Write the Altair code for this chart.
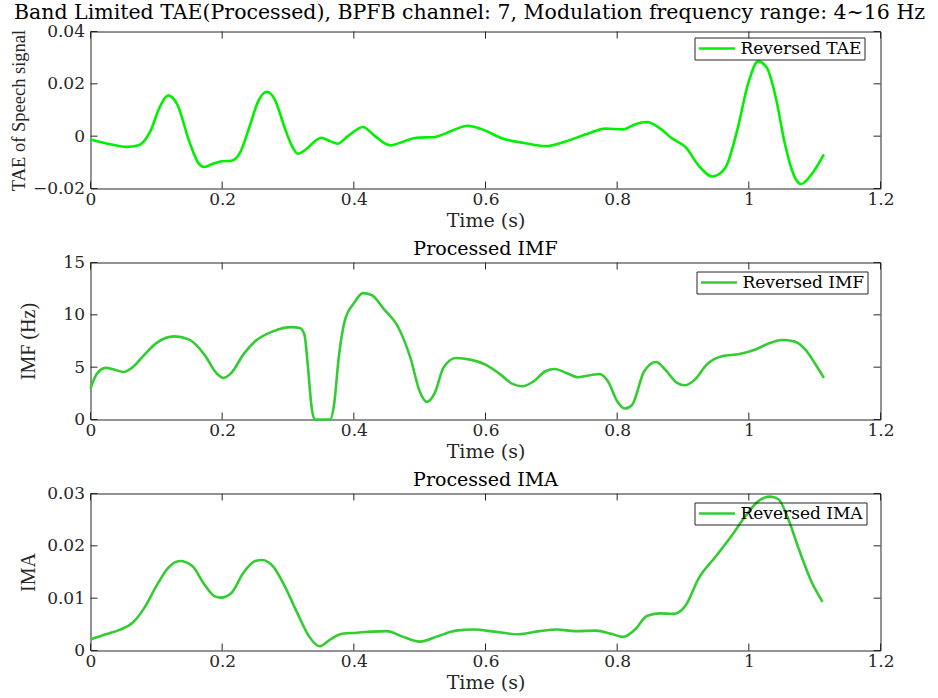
import altair as alt
import pandas as pd

# ---------------- data ----------------
tae_t = [0.0, 0.032, 0.055, 0.073, 0.091, 0.105, 0.118, 0.132, 0.15, 0.164, 0.173, 0.186, 0.2, 0.214,
         0.227, 0.241, 0.255, 0.268, 0.28, 0.295, 0.305, 0.315, 0.327, 0.341, 0.35, 0.364, 0.375, 0.391,
         0.414, 0.432, 0.455, 0.477, 0.495, 0.523, 0.55, 0.573, 0.595, 0.627, 0.659, 0.691, 0.723, 0.755,
         0.782, 0.809, 0.827, 0.845, 0.864, 0.882, 0.905, 0.923, 0.945, 0.964, 0.982, 1.0, 1.014, 1.027,
         1.041, 1.055, 1.068, 1.079, 1.095, 1.114]
tae_v = [-0.0013, -0.0032, -0.0041, -0.0035, 0.0019, 0.011, 0.0156, 0.012, -0.002, -0.0103, -0.0118,
         -0.0105, -0.0096, -0.0094, -0.0064, 0.0032, 0.0135, 0.017, 0.014, 0.0032, -0.0032, -0.0067,
         -0.0051, -0.0019, -0.0006, -0.0019, -0.0029, 0.0, 0.0035, 0.0, -0.0035, -0.0019, -0.0006, -0.0003,
         0.0022, 0.004, 0.0026, -0.001, -0.0026, -0.0038, -0.0019, 0.0009, 0.0029, 0.0026, 0.0045, 0.0054,
         0.0032, -0.0006, -0.0045, -0.011, -0.0154, -0.0122, 0.0019, 0.021, 0.0286, 0.0263, 0.0147,
         -0.0032, -0.0147, -0.0183, -0.0147, -0.007]

imf_t = [0.0, 0.009, 0.023, 0.036, 0.05, 0.064, 0.082, 0.1, 0.127, 0.15, 0.173, 0.191, 0.202, 0.214,
         0.232, 0.25, 0.277, 0.305, 0.318, 0.325, 0.33, 0.336, 0.341, 0.364, 0.37, 0.377, 0.386, 0.4,
         0.414, 0.427, 0.445, 0.468, 0.486, 0.5, 0.511, 0.523, 0.536, 0.555, 0.577, 0.6, 0.623, 0.641,
         0.656, 0.673, 0.691, 0.705, 0.723, 0.741, 0.759, 0.773, 0.786, 0.8, 0.812, 0.823, 0.841, 0.859,
         0.873, 0.891, 0.903, 0.918, 0.936, 0.959, 0.986, 1.009, 1.032, 1.05, 1.068, 1.086, 1.1, 1.114]
imf_v = [2.95, 4.29, 4.93, 4.77, 4.54, 4.99, 6.2, 7.3, 7.94, 7.63, 6.2, 4.45, 3.97, 4.45, 6.2, 7.47,
         8.42, 8.83, 8.74, 8.1, 5.24, 1.1, 0.0, 0.0, 1.43, 5.88, 9.37, 11.1, 12.07, 11.9, 10.6, 8.74,
         5.88, 2.7, 1.68, 2.54, 4.93, 5.88, 5.72, 5.24, 4.29, 3.4, 3.18, 3.65, 4.61, 4.83, 4.45, 4.04,
         4.23, 4.35, 3.65, 1.75, 1.05, 1.43, 4.61, 5.5, 4.77, 3.5, 3.27, 3.81, 5.24, 6.04, 6.26, 6.67,
         7.3, 7.6, 7.47, 6.67, 5.4, 3.97]

ima_t = [0.0, 0.023, 0.045, 0.064, 0.082, 0.1, 0.118, 0.136, 0.155, 0.173, 0.188, 0.198, 0.214, 0.232,
         0.25, 0.261, 0.277, 0.295, 0.314, 0.332, 0.348, 0.364, 0.382, 0.405, 0.427, 0.45, 0.473, 0.5,
         0.527, 0.555, 0.582, 0.614, 0.65, 0.682, 0.709, 0.736, 0.768, 0.791, 0.809, 0.827, 0.845, 0.864,
         0.886, 0.905, 0.923, 0.95, 0.973, 0.995, 1.014, 1.032, 1.045, 1.059, 1.077, 1.095, 1.112]
ima_v = [0.0021, 0.0031, 0.004, 0.0053, 0.0082, 0.0123, 0.0158, 0.0171, 0.0161, 0.0126, 0.0104, 0.0101,
         0.011, 0.0148, 0.0171, 0.0173, 0.0161, 0.0123, 0.0072, 0.0027, 0.0008, 0.0021, 0.0032, 0.0034,
         0.0036, 0.0037, 0.0027, 0.0017, 0.0027, 0.0038, 0.004, 0.0036, 0.0031, 0.0037, 0.004, 0.0037,
         0.0038, 0.0032, 0.0026, 0.004, 0.0066, 0.0071, 0.007, 0.0088, 0.0136, 0.018, 0.0218, 0.0257,
         0.0285, 0.0294, 0.0289, 0.0254, 0.019, 0.0132, 0.0093]

x_ticks = [0, 0.2, 0.4, 0.6, 0.8, 1, 1.2]
tae_ticks = [-0.02, 0, 0.02, 0.04]
imf_ticks = [0, 5, 10, 15]
ima_ticks = [0, 0.01, 0.02, 0.03]

# ---------------- styling ----------------
W, H = 790, 157
HFONT = "DejaVu Serif"
VFONT = "Liberation Serif"
INK = "#262626"
TICK = 7


def panel(t, v, color, name, ytitle, ytitle_size, ydomain, yticks, title, title_size, title_offset,
          title_dx, ytitle_x, legend_x, legend_y):
    df = pd.DataFrame({"t": t, "v": v, "series": [name] * len(t)})
    xscale = alt.Scale(domain=[0, 1.2], nice=False, zero=False)
    yscale = alt.Scale(domain=ydomain, nice=False, zero=False)

    line = alt.Chart(df).mark_line(strokeWidth=2.6, interpolate="monotone").encode(
        x=alt.X("t:Q", scale=xscale, title="Time (s)", axis=alt.Axis(
            values=x_ticks, format="~g", ticks=False, domain=False,
            grid=False, labelFont=HFONT, labelFontSize=17, labelColor=INK, labelPadding=3,
            titleFont=HFONT, titleFontSize=19, titleFontWeight="normal", titleColor=INK,
            titlePadding=4, labelFlush=False)),
        y=alt.Y("v:Q", scale=yscale, title=ytitle, axis=alt.Axis(
            values=yticks, format="~g", ticks=False, domain=False,
            grid=False, labelFont=HFONT, labelFontSize=17, labelColor=INK, labelPadding=6,
            titleFont=VFONT, titleFontSize=ytitle_size, titleFontWeight="normal", titleColor=INK,
            titleX=ytitle_x, titleY=H / 2, titleBaseline="middle", titleAlign="center",
            labelFlush=False)),
        color=alt.Color("series:N", scale=alt.Scale(range=[color]), legend=alt.Legend(
            title=None, orient="none", legendX=legend_x, legendY=legend_y,
            symbolType="stroke", symbolSize=1300, symbolStrokeWidth=2.6, clipHeight=16,
            labelFont=HFONT, labelFontSize=17, labelColor="black", labelOffset=4,
            strokeColor=INK, padding=3, cornerRadius=0)),
    )

    xt = pd.DataFrame({"t": x_ticks})
    yt = pd.DataFrame({"v": yticks})
    rule = dict(color=INK, strokeWidth=1)
    xb = alt.Chart(xt).mark_rule(**rule).encode(
        x=alt.X("t:Q", scale=xscale), y=alt.value(H), y2=alt.value(H - TICK))
    xtop = alt.Chart(xt).mark_rule(**rule).encode(
        x=alt.X("t:Q", scale=xscale), y=alt.value(0), y2=alt.value(TICK))
    yl = alt.Chart(yt).mark_rule(**rule).encode(
        y=alt.Y("v:Q", scale=yscale), x=alt.value(0), x2=alt.value(TICK))
    yr = alt.Chart(yt).mark_rule(**rule).encode(
        y=alt.Y("v:Q", scale=yscale), x=alt.value(W), x2=alt.value(W - TICK))

    return alt.layer(line, xb, xtop, yl, yr).properties(
        width=W, height=H,
        title=alt.TitleParams(title, font=HFONT, fontSize=title_size, fontWeight="normal",
                              color="black", anchor="middle", offset=title_offset, dx=title_dx),
    )


p1 = panel(tae_t, tae_v, "#00f000", "Reversed TAE", "TAE of Speech signal", 18.5, [-0.02, 0.04],
           tae_ticks,
           "Band Limited TAE(Processed), BPFB channel: 7, Modulation frequency range: 4~16 Hz",
           20.5, -1, -16, -72, 604, 6)
p2 = panel(imf_t, imf_v, "#33cc33", "Reversed IMF", "IMF (Hz)", 20, [0, 15], imf_ticks,
           "Processed IMF", 19, -5, 0, -62, 606, 9)
p3 = panel(ima_t, ima_v, "#33cc33", "Reversed IMA", "IMA", 20, [0, 0.03], ima_ticks,
           "Processed IMA", 19, -5, 0, -62, 604, 9)

chart = alt.vconcat(p1, p2, p3, spacing=74, bounds="flush").resolve_scale(
    color="independent", x="independent", y="independent"
).resolve_legend(color="independent").properties(
    padding={"left": 8.5, "top": 2.5, "right": 5, "bottom": 2},
    background="white",
).configure_view(stroke=INK, strokeWidth=1)

chart.save("out.html", embed_options={"renderer": "svg", "actions": False})
